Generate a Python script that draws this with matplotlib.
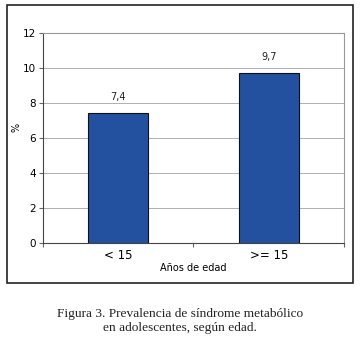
import matplotlib.pyplot as plt
from matplotlib.patches import Rectangle

categories = ['< 15', '>= 15']
values = [7.4, 9.7]
value_labels = ['7,4', '9,7']
yticks = [0, 2, 4, 6, 8, 10, 12]


def main():
    fig = plt.figure(figsize=(3.6, 3.46), dpi=100)
    fig.patch.set_facecolor('white')

    # outer frame around the chart
    fig.patches.append(Rectangle((0.019, 0.182), 0.962, 0.803, transform=fig.transFigure,
                                 fill=False, edgecolor='#222222', linewidth=1.2))

    ax = fig.add_axes([0.1194, 0.2977, 0.836, 0.607])
    x = list(range(len(categories)))
    ax.bar(x, values, width=0.4, color='#2351a0', edgecolor='#111111', linewidth=0.8, zorder=3)
    for xi, v, lab in zip(x, values, value_labels):
        ax.text(xi, v + 0.65, lab, ha='center', va='bottom', fontsize=7, color='#222222')

    ax.set_xlim(-0.5, 1.5)
    ax.set_ylim(0, 12)
    ax.set_yticks(yticks)
    ax.set_yticklabels([str(t) for t in yticks], fontsize=7.5)
    ax.set_xticks([-0.5, 0.5, 1.5])
    ax.set_xticklabels([])
    ax.set_xticks(x, minor=True)
    ax.set_xticklabels(categories, minor=True, fontsize=8.5)
    ax.tick_params(axis='x', which='minor', length=0, pad=4)
    ax.tick_params(axis='x', which='major', length=3, color='#666666')
    ax.tick_params(axis='y', length=3, color='#666666', pad=2)
    ax.grid(True, axis='y', color='#b0b0b0', linewidth=0.7, zorder=0)
    for s in ax.spines.values():
        s.set_color('#999999')
        s.set_linewidth(0.8)
    ax.spines['left'].set_color('#444444')
    ax.spines['bottom'].set_color('#444444')

    ax.set_xlabel('Años de edad', fontsize=7, labelpad=1)
    ax.set_ylabel('%', fontsize=7)
    ax.yaxis.set_label_coords(-0.07, 0.55)

    fig.text(0.5, 0.073, 'Figura 3. Prevalencia de síndrome metabólico\nen adolescentes, según edad.',
             ha='center', va='center', fontsize=9.6, family='Liberation Serif',
             linespacing=1.2, color='#222222')

    fig.savefig('out.png', dpi=100)


if __name__ == '__main__':
    main()
